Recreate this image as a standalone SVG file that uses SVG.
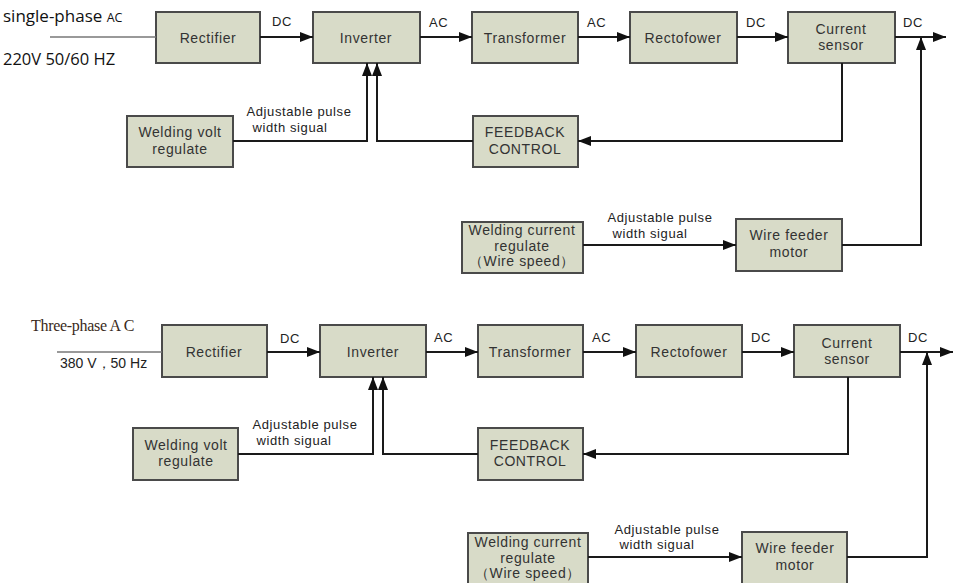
<svg xmlns="http://www.w3.org/2000/svg" width="953" height="583" viewBox="0 0 953 583">
<defs>
<marker id="ah" markerUnits="userSpaceOnUse" markerWidth="13" markerHeight="10" refX="13" refY="5" orient="auto">
<path d="M0,0 L13,5 L0,10 z" fill="#111"/>
</marker>
<style>
.box{fill:#d8dbc8;stroke:#4a4a4a;stroke-width:2}
.t{font-family:"Liberation Sans",Arial,sans-serif;font-size:14px;fill:#333;text-anchor:middle;letter-spacing:0.6px}
.s{font-family:"Liberation Sans",Arial,sans-serif;font-size:13px;fill:#222;letter-spacing:0.5px}
.sm{font-family:"Liberation Sans",Arial,sans-serif;font-size:13px;fill:#222;text-anchor:middle;letter-spacing:0.6px}
.arr{fill:none;stroke:#1a1a1a;stroke-width:2;marker-end:url(#ah)}
.in{fill:none;stroke:#777;stroke-width:1.5}
</style>
</defs>
<rect width="953" height="583" fill="#fff"/>

<!-- TOP DIAGRAM -->
<g id="top-input">
<text x="3" y="22" font-family="'Open Sans','Liberation Sans',sans-serif" font-size="17" fill="#111">single-phase <tspan font-size="12.5">AC</tspan></text>
<text x="3" y="65" font-family="'Open Sans','Liberation Sans',sans-serif" font-size="16.5" fill="#111">220V 50/60 HZ</text>
</g>
<g id="t-rectifier"><rect class="box" x="156" y="12" width="104" height="51"/><text class="t" x="208" y="43">Rectifier</text></g>
<g id="t-inverter"><rect class="box" x="313" y="12" width="107" height="51"/><text class="t" x="366" y="43">Inverter</text></g>
<g id="t-transformer"><rect class="box" x="472" y="12" width="106" height="51"/><text class="t" x="525" y="43">Transformer</text></g>
<g id="t-rectofower"><rect class="box" x="630" y="12" width="107" height="51"/><text class="t" x="683" y="43">Rectofower</text></g>
<g id="t-sensor"><rect class="box" x="788" y="12" width="107" height="51"/><text class="t" x="841" y="34">Current</text><text class="t" x="841" y="50">sensor</text></g>
<g id="t-volt"><rect class="box" x="127" y="116" width="106" height="51"/><text class="t" x="180" y="137" font-size="13.5">Welding volt</text><text class="t" x="180" y="154" font-size="13.5">regulate</text></g>
<g id="t-feedback"><rect class="box" x="473" y="116" width="105" height="51"/><text class="t" x="525" y="137">FEEDBACK</text><text class="t" x="525" y="154">CONTROL</text></g>
<g id="t-current"><rect class="box" x="462" y="222" width="121" height="51"/><text class="t" x="522" y="235" font-size="13">Welding current</text><text class="t" x="522" y="251" font-size="13">regulate</text><text class="t" x="522" y="266" font-size="13">（Wire speed）</text></g>
<g id="t-wire"><rect class="box" x="736" y="219" width="106" height="52"/><text class="t" x="789" y="240">Wire feeder</text><text class="t" x="789" y="257">motor</text></g>

<g id="top-connectors">
<line class="in" x1="50" y1="37" x2="156" y2="37"/>
<line class="arr" x1="260" y1="37" x2="313" y2="37"/>
<line class="arr" x1="420" y1="37" x2="472" y2="37"/>
<line class="arr" x1="578" y1="37" x2="630" y2="37"/>
<line class="arr" x1="737" y1="37" x2="788" y2="37"/>
<line class="arr" x1="895" y1="37" x2="946" y2="37"/>
<polyline class="arr" points="233,141 367,141 367,63"/>
<polyline class="arr" points="473,141 377,141 377,63"/>
<polyline class="arr" points="842,63 842,141 578,141"/>
<line class="arr" x1="583" y1="245" x2="736" y2="245"/>
<polyline class="arr" points="842,245 921,245 921,37"/>
<text class="s" x="272" y="26">DC</text>
<text class="s" x="429" y="27">AC</text>
<text class="s" x="587" y="27">AC</text>
<text class="s" x="746" y="27">DC</text>
<text class="s" x="903" y="27">DC</text>
<text class="sm" x="299" y="116">Adjustable pulse</text>
<text class="sm" x="290" y="132">width sigual</text>
<text class="sm" x="660" y="222">Adjustable pulse</text>
<text class="sm" x="650" y="238">width sigual</text>
</g>

<!-- BOTTOM DIAGRAM -->
<g id="bottom-input">
<text x="31" y="331" font-family="'Liberation Serif','Times New Roman',serif" font-size="16" fill="#3a2a20" letter-spacing="-0.3">Three-phase A C</text>
<text x="60" y="368" font-family="'Liberation Sans',Arial,sans-serif" font-size="14" fill="#222">380 V，50 Hz</text>
</g>
<g id="b-rectifier"><rect class="box" x="162" y="325" width="105" height="52"/><text class="t" x="214" y="357">Rectifier</text></g>
<g id="b-inverter"><rect class="box" x="320" y="325" width="106" height="52"/><text class="t" x="373" y="357">Inverter</text></g>
<g id="b-transformer"><rect class="box" x="478" y="325" width="105" height="52"/><text class="t" x="530" y="357">Transformer</text></g>
<g id="b-rectofower"><rect class="box" x="636" y="325" width="106" height="52"/><text class="t" x="689" y="357">Rectofower</text></g>
<g id="b-sensor"><rect class="box" x="794" y="325" width="106" height="52"/><text class="t" x="847" y="348">Current</text><text class="t" x="847" y="364">sensor</text></g>
<g id="b-volt"><rect class="box" x="133" y="428" width="105" height="52"/><text class="t" x="186" y="450" font-size="13.5">Welding volt</text><text class="t" x="186" y="466" font-size="13.5">regulate</text></g>
<g id="b-feedback"><rect class="box" x="478" y="428" width="105" height="52"/><text class="t" x="530" y="450">FEEDBACK</text><text class="t" x="530" y="466">CONTROL</text></g>
<g id="b-current"><rect class="box" x="468" y="533" width="120" height="52"/><text class="t" x="528" y="547" font-size="13">Welding current</text><text class="t" x="528" y="563" font-size="13">regulate</text><text class="t" x="528" y="578" font-size="13">（Wire speed）</text></g>
<g id="b-wire"><rect class="box" x="742" y="532" width="105" height="53"/><text class="t" x="795" y="553">Wire feeder</text><text class="t" x="795" y="570">motor</text></g>

<g id="bottom-connectors">
<line class="in" x1="57" y1="352" x2="162" y2="352"/>
<line class="arr" x1="267" y1="352" x2="320" y2="352"/>
<line class="arr" x1="426" y1="352" x2="478" y2="352"/>
<line class="arr" x1="583" y1="352" x2="636" y2="352"/>
<line class="arr" x1="742" y1="352" x2="794" y2="352"/>
<line class="arr" x1="900" y1="352" x2="953" y2="352"/>
<polyline class="arr" points="238,454 373,454 373,377"/>
<polyline class="arr" points="478,454 383,454 383,377"/>
<polyline class="arr" points="848,377 848,454 583,454"/>
<line class="arr" x1="588" y1="557" x2="742" y2="557"/>
<polyline class="arr" points="847,557 927,557 927,352"/>
<text class="s" x="280" y="343">DC</text>
<text class="s" x="434" y="342">AC</text>
<text class="s" x="592" y="342">AC</text>
<text class="s" x="751" y="342">DC</text>
<text class="s" x="908" y="342">DC</text>
<text class="sm" x="305" y="429">Adjustable pulse</text>
<text class="sm" x="294" y="445">width sigual</text>
<text class="sm" x="667" y="534">Adjustable pulse</text>
<text class="sm" x="657" y="549">width sigual</text>
</g>
</svg>
